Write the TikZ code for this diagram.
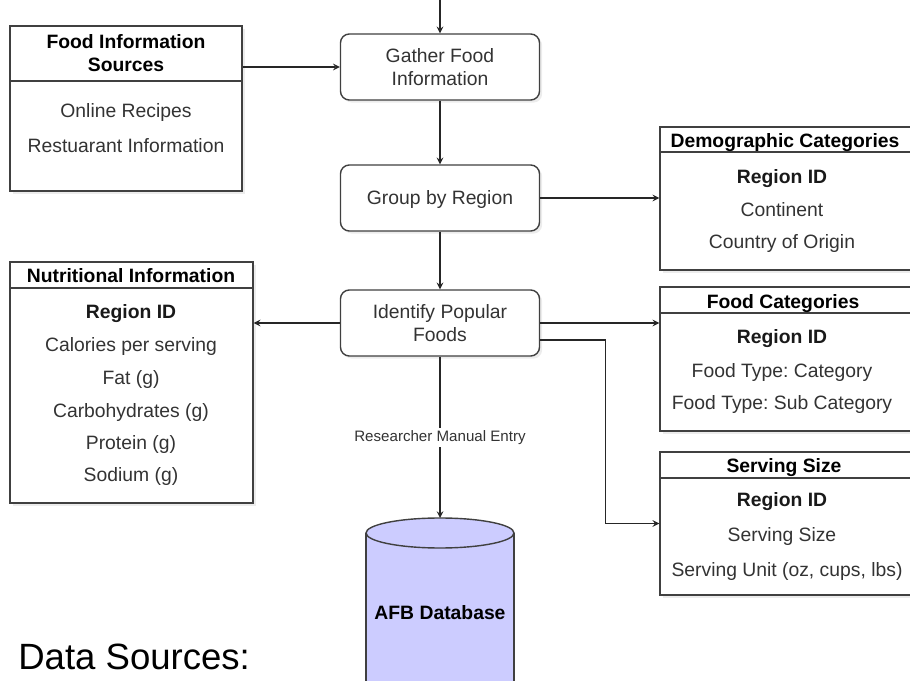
\documentclass[tikz,border=0pt]{standalone}
\usepackage{fontspec}
\setmainfont{Liberation Sans}
\usepackage{xcolor}
\usetikzlibrary{shapes,arrows,positioning,fit,shadows}
\frenchspacing

\begin{document}
\begin{tikzpicture}[x=0.2mm, y=-0.2mm, >=stealth,
    procbox/.style={draw=black!75, fill=white, line width=0.8pt, rounded corners=5pt,
        minimum width=39.8mm, minimum height=13.2mm, align=center, text=black!80,
        font=\fontsize{11}{13.6}\selectfont, text depth=0pt,
        drop shadow={opacity=0.15, shadow xshift=1.5pt, shadow yshift=-1.5pt}},
    entbox/.style={draw=black!75, fill=white, line width=0.8pt, inner sep=0pt,
        drop shadow={opacity=0.15, shadow xshift=1.5pt, shadow yshift=-1.5pt}},
    hdr/.style={font=\fontsize{11}{13.6}\selectfont\bfseries, align=center,
        text depth=0pt},
    keyrow/.style={font=\fontsize{11}{13}\selectfont\bfseries, text=black!90,
        text height=7.9pt, text depth=0pt},
    row/.style={font=\fontsize{11}{13}\selectfont, text=black!80,
        text height=7.9pt, text depth=0pt},
    flow/.style={->, line width=0.7pt, draw=black!85}]

% Define colors
\definecolor{dbcolor}{RGB}{204,204,255}

% Frame of the picture
\clip (0,0) rectangle (910,681);

% Helper for the table boxes
\newcommand{\entitybox}[6]{%
    % #1 = name, #2 = left, #3 = top, #4 = right, #5 = bottom, #6 = header rule
    \node[entbox, fit={(#2,#3) (#4,#5)}] (#1) {};
    \draw[draw=black!75, line width=0.8pt] (#2,#6) -- (#4,#6);
}

% Process steps
\node[procbox] (gather) at (440,67) {Gather Food\\Information};
\node[procbox] (group) at (440,198) {Group by Region};
\node[procbox] (ident) at (440,323) {Identify Popular\\Foods};

% Food information sources
\entitybox{fis}{10}{26}{242}{191}{81}
\node[hdr] (fishead) at (126,53) {Food Information\\Sources};
\node[row] (fisrecipe) at (126,111) {Online Recipes};
\node[row] (fisrest) at (126,146) {Restuarant Information};

% Demographic categories
\entitybox{demo}{660}{127}{913}{270}{152}
\node[hdr] (demohead) at (785,141) {Demographic Categories};
\node[keyrow] (demokey) at (782,177) {Region ID};
\node[row] (democont) at (782,210) {Continent};
\node[row] (democtry) at (782,242) {Country of Origin};

% Nutritional information
\entitybox{nutri}{10}{262}{253}{503}{288}
\node[hdr] (nutrihead) at (131,276) {Nutritional Information};
\node[keyrow] (nutrikey) at (131,312) {Region ID};
\node[row] (nutrical) at (131,345) {Calories per serving};
\node[row] (nutrifat) at (131,378) {Fat (g)};
\node[row] (nutricarb) at (131,411) {Carbohydrates (g)};
\node[row] (nutriprot) at (131,443) {Protein (g)};
\node[row] (nutrisod) at (131,475) {Sodium (g)};

% Food categories
\entitybox{food}{660}{287}{913}{431}{313}
\node[hdr] (foodhead) at (783,301) {Food Categories};
\node[keyrow] (foodkey) at (782,337) {Region ID};
\node[row] (foodcat) at (782,371) {Food Type: Category};
\node[row] (foodsub) at (782,403) {Food Type: Sub Category};

% Serving size
\entitybox{serv}{660}{452}{913}{595}{478}
\node[hdr] (servhead) at (784,465) {Serving Size};
\node[keyrow] (servkey) at (782,500) {Region ID};
\node[row] (servsize) at (782,535) {Serving Size};
\node[row] (servunit) at (787,570) {Serving Unit (oz, cups, lbs)};

% Database
\fill[dbcolor] (366,533) rectangle (514,700);
\draw[black!75, line width=0.8pt] (366,533) -- (366,700) (514,533) -- (514,700);
\draw[black!75, line width=0.8pt, fill=dbcolor] (440,533) ellipse [x radius=74, y radius=15];
\coordinate (dbtop) at (440,518);
\node[font=\fontsize{11}{13}\selectfont\bfseries, text height=7.9pt, text depth=0pt] (db) at (440,613) {AFB Database};

% Caption
\node[anchor=base west, inner sep=0pt, font=\fontsize{20.8}{24}\selectfont] (datasrc) at (18,670) {Data Sources:};

% Connectors
\coordinate (topin) at (440,0);
\draw[flow] (topin) -- (gather.north);
\draw[flow] (gather.west -| fis.east) -- (gather.west);
\draw[flow] (gather) -- (group);
\draw[flow] (group.east) -- (group.east -| demo.west);
\draw[flow] (group) -- (ident);
\draw[flow] (ident.west) -- (ident.west -| nutri.east);
\draw[flow] (ident.east) -- (ident.east -| food.west);
\draw[flow] ([yshift=-3.4mm]ident.east) -- ++(65,0) |- (serv.west);
\draw[flow] (ident) -- node[fill=white, inner sep=1.5pt, text=black!80,
    font=\fontsize{8.6}{10}\selectfont, pos=0.5] (entry) {Researcher Manual Entry} (dbtop);

\end{tikzpicture}
\end{document}
